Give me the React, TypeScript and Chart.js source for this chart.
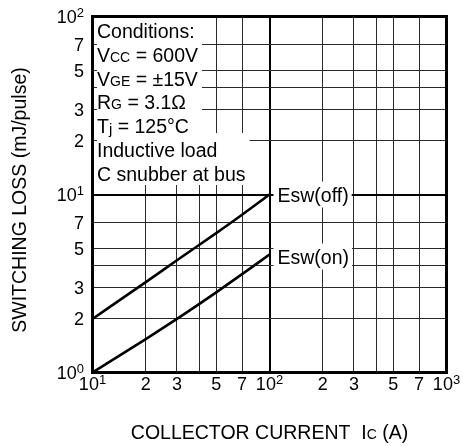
import React, { useEffect, useRef } from "react";
import { Chart, registerables } from "chart.js";

Chart.register(...registerables);

// ---- data ----
const currents = [10, 20, 30, 40, 50, 70, 100];
const eswOff = [2.0, 3.22, 4.27, 5.2, 6.07, 7.7, 10.0];
const eswOn = [1.0, 1.54, 2.0, 2.42, 2.82, 3.57, 4.6];

const xGridValues = [10, 20, 30, 40, 50, 70, 100, 200, 300, 400, 500, 700, 1000];
const yGridValues = [1, 2, 3, 4, 5, 7, 10, 20, 30, 40, 50, 70, 100];

const xTickValues = [10, 20, 30, 50, 70, 100, 200, 300, 500, 700, 1000];
const xTickLabels = ["10^1", "2", "3", "5", "7", "10^2", "2", "3", "5", "7", "10^3"];
const yTickValues = [1, 2, 3, 5, 7, 10, 20, 30, 50, 70, 100];
const yTickLabels = ["10^0", "2", "3", "5", "7", "10^1", "2", "3", "5", "7", "10^2"];

const seriesLabels = ["Esw(off)", "Esw(on)"];

type Part = { t: string; size?: number; dy?: number };

const conditionRows: Part[][] = [
  [{ t: "Conditions:" }],
  [{ t: "V" }, { t: "CC", size: 14 }, { t: " = 600V" }],
  [{ t: "V" }, { t: "GE", size: 14 }, { t: " = \u00b115V" }],
  [{ t: "R" }, { t: "G", size: 14 }, { t: " = 3.1\u03a9" }],
  [{ t: "T" }, { t: "j", size: 15, dy: 1 }, { t: " = 125\u00b0C" }],
  [{ t: "Inductive load" }],
  [{ t: "C snubber at bus" }],
];

const yTitle: Part[] = [{ t: "SWITCHING LOSS (mJ/pulse)" }];
const xTitle: Part[] = [{ t: "COLLECTOR CURRENT  I" }, { t: "C", size: 14 }, { t: " (A)" }];

const FONT = '"Liberation Sans", Arial, Helvetica, sans-serif';

function measureRich(ctx: CanvasRenderingContext2D, parts: Part[], base: number) {
  let w = 0;
  for (const p of parts) {
    ctx.font = `${p.size ?? base}px ${FONT}`;
    w += ctx.measureText(p.t).width;
  }
  return w;
}

function drawRich(
  ctx: CanvasRenderingContext2D,
  parts: Part[],
  x: number,
  y: number,
  align: "left" | "right" | "center",
  base: number
) {
  const w = measureRich(ctx, parts, base);
  let cx = align === "left" ? x : align === "right" ? x - w : x - w / 2;
  ctx.textAlign = "left";
  ctx.textBaseline = "alphabetic";
  ctx.fillStyle = "#000";
  for (const p of parts) {
    ctx.font = `${p.size ?? base}px ${FONT}`;
    ctx.fillText(p.t, cx, y + (p.dy ?? 0));
    cx += ctx.measureText(p.t).width;
  }
  return w;
}

function tickParts(label: string): Part[] {
  if (label.includes("^")) {
    const [b, e] = label.split("^");
    return [{ t: b }, { t: e, size: 13, dy: -6 }];
  }
  return [{ t: label }];
}

const decorPlugin = {
  id: "decor",
  afterDraw(chart: any) {
    const ctx: CanvasRenderingContext2D = chart.ctx;
    const { left, top, right, bottom } = chart.chartArea;
    const xs = chart.scales.x;
    const ys = chart.scales.y;
    ctx.save();

    // conditions box
    const base = 19.5;
    const textX = 97;
    const baselines = [38, 62, 86, 109, 133, 157, 181];
    let wA = 0;
    for (let i = 0; i < 5; i++) wA = Math.max(wA, measureRich(ctx, conditionRows[i], base));
    let wB = 0;
    for (let i = 5; i < 7; i++) wB = Math.max(wB, measureRich(ctx, conditionRows[i], base));
    ctx.fillStyle = "#fff";
    ctx.fillRect(textX, top + 1.5, wA + 4, 133 - top - 1.5);
    ctx.fillRect(textX, 133, wB + 4, 52);
    conditionRows.forEach((row, i) => drawRich(ctx, row, textX, baselines[i], "left", base));

    // series labels
    const lastX = xs.getPixelForValue(currents[currents.length - 1]);
    [eswOff, eswOn].forEach((vals, i) => {
      const yv = ys.getPixelForValue(vals[vals.length - 1]);
      const tx = lastX + 8;
      const w = measureRich(ctx, [{ t: seriesLabels[i] }], base);
      ctx.fillStyle = "#fff";
      ctx.fillRect(tx - 4, yv - 13 + (i === 1 ? 2 : 0), w + 7, 26);
      drawRich(ctx, [{ t: seriesLabels[i] }], tx, yv + 7 + (i === 1 ? 2 : 0), "left", base);
    });

    // frame
    ctx.strokeStyle = "#000";
    ctx.lineWidth = 3;
    ctx.strokeRect(left, top, right - left, bottom - top);

    // tick labels
    const tickSize = 18;
    yTickValues.forEach((v, i) => {
      const py = ys.getPixelForValue(v);
      drawRich(ctx, tickParts(yTickLabels[i]), 84, py + 6.5, "right", tickSize);
    });
    xTickValues.forEach((v, i) => {
      const px = xs.getPixelForValue(v);
      drawRich(ctx, tickParts(xTickLabels[i]), px, 390, "center", tickSize);
    });

    // axis titles
    drawRich(ctx, xTitle, (left + right) / 2, 439, "center", 19.5);
    ctx.translate(26, 200);
    ctx.rotate(-Math.PI / 2);
    drawRich(ctx, yTitle, 0, 0, "center", 19.5);

    ctx.restore();
  },
};

export default function App() {
  const ref = useRef<HTMLCanvasElement | null>(null);

  useEffect(() => {
    if (!ref.current) return;
    const isDecade = (v: number) => Math.abs(Math.log10(v) - Math.round(Math.log10(v))) < 1e-6;
    const gridOpts = {
      drawTicks: false,
      color: (c: any) => (c.tick && isDecade(c.tick.value) ? "#000" : "#2a2a2a"),
      lineWidth: (c: any) => (c.tick && isDecade(c.tick.value) ? 2 : 1),
    };
    const chart = new Chart(ref.current, {
      type: "line",
      data: {
        datasets: [
          {
            label: seriesLabels[0],
            data: currents.map((x, i) => ({ x, y: eswOff[i] })),
            borderColor: "#000",
            borderWidth: 2.6,
            pointRadius: 0,
            cubicInterpolationMode: "monotone",
            fill: false,
          },
          {
            label: seriesLabels[1],
            data: currents.map((x, i) => ({ x, y: eswOn[i] })),
            borderColor: "#000",
            borderWidth: 2.6,
            pointRadius: 0,
            cubicInterpolationMode: "monotone",
            fill: false,
          },
        ],
      },
      options: {
        animation: false,
        responsive: false,
        devicePixelRatio: 1,
        layout: { padding: { left: 92.5, top: 16.5, right: 16.5, bottom: 73.5 } },
        plugins: { legend: { display: false }, tooltip: { enabled: false } },
        scales: {
          x: {
            type: "logarithmic",
            min: 10,
            max: 1000,
            afterBuildTicks: (s: any) => {
              s.ticks = xGridValues.map((value) => ({ value }));
            },
            ticks: { display: false },
            grid: gridOpts as any,
            border: { display: false },
            title: { display: false },
          },
          y: {
            type: "logarithmic",
            min: 1,
            max: 100,
            afterBuildTicks: (s: any) => {
              s.ticks = yGridValues.map((value) => ({ value }));
            },
            ticks: { display: false },
            grid: gridOpts as any,
            border: { display: false },
            title: { display: false },
          },
        },
      },
      plugins: [decorPlugin],
    });
    return () => chart.destroy();
  }, []);

  return (
    <div style={{ position: "absolute", left: 0, top: 0, width: 463, height: 446, background: "#fff" }}>
      <canvas ref={ref} width={463} height={446} style={{ display: "block" }} />
    </div>
  );
}
